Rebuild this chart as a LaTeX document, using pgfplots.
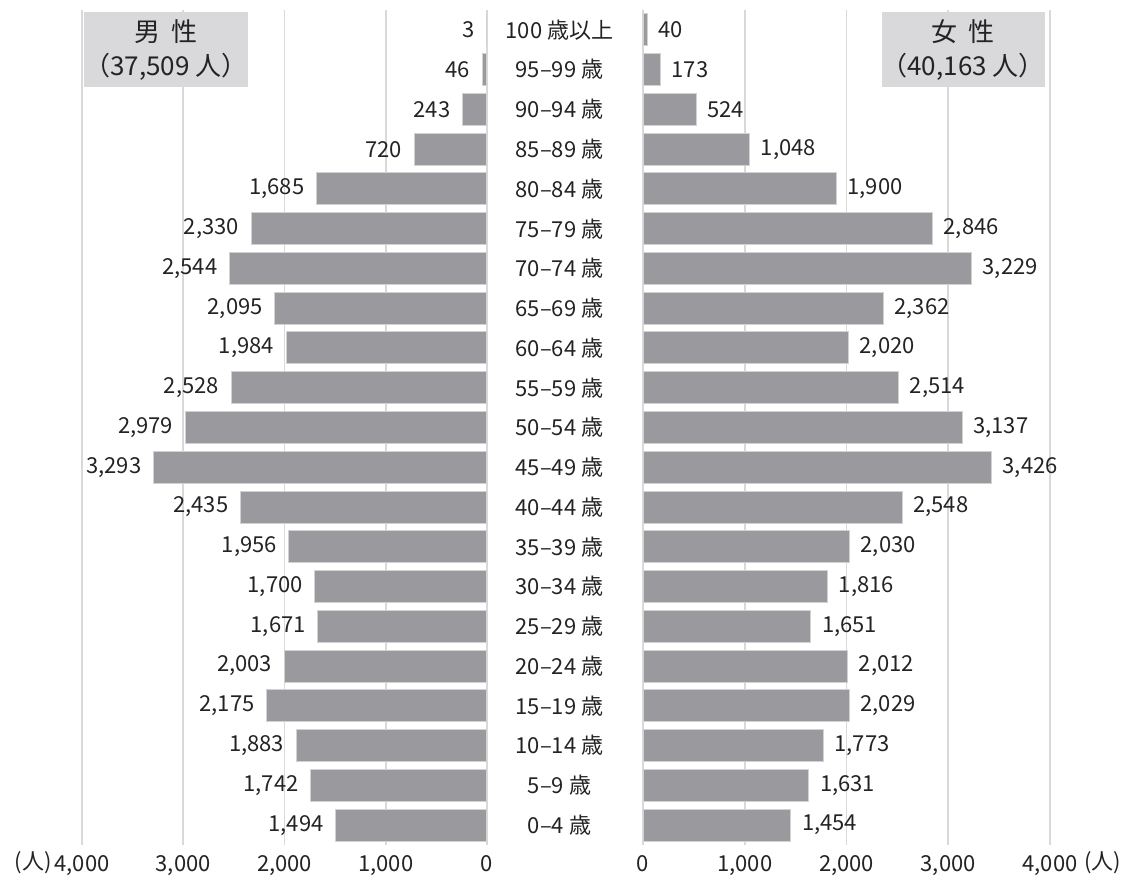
\documentclass[border=0pt]{standalone}
\usepackage{fontspec}
\setmainfont{Noto Sans CJK JP}
\usepackage{pgfplots}
\pgfplotsset{compat=1.18}
\definecolor{bargray}{RGB}{154,154,158}
\definecolor{gridgray}{RGB}{217,217,217}
\definecolor{boxgray}{RGB}{217,217,219}
\definecolor{txt}{RGB}{35,35,35}
\begin{document}
\begin{tikzpicture}[font=\fontsize{11pt}{13pt}\selectfont, text=txt]
\useasboundingbox (0,0) rectangle (564.5pt,439pt);
\pgfplotsset{
  pyr/.style={
    xbar, scale only axis, height=417.5pt,
    xmin=0, xmax=4000, ymin=-0.5, ymax=20.5,
    xtick={0,1000,2000,3000,4000},
    ytick={0,...,20},
    xmajorgrids=true, grid style={gridgray, line width=0.8pt},
    axis line style={draw=none}, tick style={draw=none},
    bar width=16pt,
    /pgf/number format/.cd, 1000 sep={,}, assume math mode=true,
    /pgfplots/.cd,
    point meta=x,
    nodes near coords={\pgfmathprintnumber[1000 sep={,}, assume math mode=true]{\pgfplotspointmeta}},
    nodes near coords style={text=txt, font=\fontsize{11pt}{13pt}\selectfont},
    xticklabel style={text=txt, font=\fontsize{11pt}{13pt}\selectfont, yshift=-1.5pt},
    clip=false,
  }
}
% Male
\begin{axis}[pyr, at={(41pt,16.5pt)}, anchor=south west, width=202.5pt,
  x dir=reverse, yticklabels={},
  every node near coord/.append style={anchor=east, xshift=-2.5pt}]
\addplot[fill=bargray, draw=gray!35, line width=0.5pt] coordinates {
(1494,0) (1742,1) (1883,2) (2175,3) (2003,4) (1671,5) (1700,6) (1956,7)
(2435,8) (3293,9) (2979,10) (2528,11) (1984,12) (2095,13) (2544,14)
(2330,15) (1685,16) (720,17) (243,18) (46,19) (3,20)};
\node[fill=boxgray, anchor=north west, minimum width=65.5pt, minimum height=37.5pt, inner sep=0pt,
  align=center, font=\fontsize{13pt}{17pt}\selectfont] at (rel axis cs:0.005,0.998)
  {男\hspace{0.45em}性\\（37,509 人）};
\node[anchor=east, font=\fontsize{11pt}{13pt}\selectfont, inner sep=0pt] at ([yshift=-9pt,xshift=-15pt]rel axis cs:0,0) {(人)};
\end{axis}
% Female
\begin{axis}[pyr, at={(321.5pt,16.5pt)}, anchor=south west, width=203.5pt,
  yticklabels={0--4 歳,5--9 歳,10--14 歳,15--19 歳,20--24 歳,25--29 歳,30--34 歳,35--39 歳,40--44 歳,45--49 歳,50--54 歳,55--59 歳,60--64 歳,65--69 歳,70--74 歳,75--79 歳,80--84 歳,85--89 歳,90--94 歳,95--99 歳,100 歳以上},
  yticklabel style={anchor=center, xshift=-37.5pt, text=txt, font=\fontsize{11pt}{13pt}\selectfont},
  every node near coord/.append style={anchor=west, xshift=2pt}]
\addplot[fill=bargray, draw=gray!35, line width=0.5pt] coordinates {
(1454,0) (1631,1) (1773,2) (2029,3) (2012,4) (1651,5) (1816,6) (2030,7)
(2548,8) (3426,9) (3137,10) (2514,11) (2020,12) (2362,13) (3229,14)
(2846,15) (1900,16) (1048,17) (524,18) (173,19) (40,20)};
\node[fill=boxgray, anchor=north east, minimum width=65.5pt, minimum height=37.5pt, inner sep=0pt,
  align=center, font=\fontsize{13pt}{17pt}\selectfont] at (rel axis cs:0.988,0.998)
  {女\hspace{0.45em}性\\（40,163 人）};
\node[anchor=west, font=\fontsize{11pt}{13pt}\selectfont, inner sep=0pt] at ([yshift=-9pt,xshift=17pt]rel axis cs:1,0) {(人)};
\end{axis}
\end{tikzpicture}
\end{document}
